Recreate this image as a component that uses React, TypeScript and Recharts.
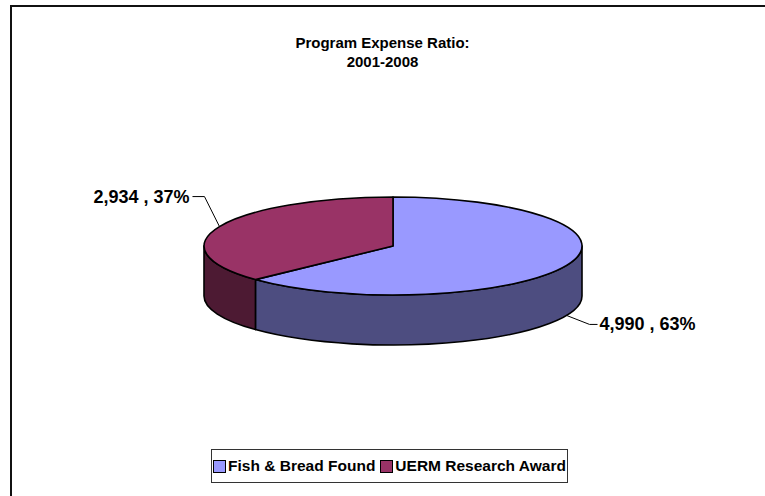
import React from 'react';
import { PieChart, Pie, Legend } from 'recharts';

// values
const categories = ['Fish & Bread Found', 'UERM Research Award'];
const values = [4990, 2934];
const topColors = ['#9999FF', '#993366'];
const sideColors = ['#4D4D80', '#4D1A33'];

const data = categories.map((name, i) => ({ name, value: values[i] }));

// 3d look: flattened ellipse plus a front wall
const RX = 189;
const RY = 49;
const DEPTH = 50;
const RAD = Math.PI / 180;
const FONT = '"Liberation Sans", Arial, sans-serif';

// leader line shape per slice: [dx, dy, horizontal run]
const leaders = [
    [23, 9, 8],
    [-15, -30, -12],
];

const pt = (cx: number, cy: number, a: number) => [cx + RX * Math.cos(a * RAD), cy - RY * Math.sin(a * RAD)];

const renderSlice = (props: any) => {
    const { cx, cy, startAngle, endAngle, index, value, percent } = props;
    const [sx, sy] = pt(cx, cy, startAngle);
    const [ex, ey] = pt(cx, cy, endAngle);
    const large = Math.abs(startAngle - endAngle) > 180 ? 1 : 0;
    const sweep = startAngle > endAngle ? 1 : 0;
    const top = `M${cx},${cy} L${sx},${sy} A${RX},${RY} 0 ${large} ${sweep} ${ex},${ey} Z`;

    const hi0 = Math.max(startAngle, endAngle);
    const lo0 = Math.min(startAngle, endAngle);
    const walls: string[] = [];
    [-1, 0, 1].forEach((k) => {
        const lo = Math.max(lo0, -180 + 360 * k);
        const hi = Math.min(hi0, 360 * k);
        if (hi > lo) {
            const [x1, y1] = pt(cx, cy, hi);
            const [x2, y2] = pt(cx, cy, lo);
            walls.push(
                `M${x1},${y1} A${RX},${RY} 0 0 1 ${x2},${y2} L${x2},${y2 + DEPTH} A${RX},${RY} 0 0 0 ${x1},${y1 + DEPTH} Z`
            );
        }
    });

    const mid = (startAngle + endAngle) / 2;
    const [ax, ayTop] = pt(cx, cy, mid);
    const ay = Math.sin(mid * RAD) < 0 ? ayTop + DEPTH : ayTop;
    const [dx, dy, run] = leaders[index];
    const bx = ax + dx;
    const by = ay + dy;
    const tx = bx + run;
    const text = `${value.toLocaleString('en-US')} , ${Math.round(percent * 100)}%`;

    return (
        <g key={`slice-${index}`}>
            {walls.map((d, i) => (
                <path key={i} d={d} fill={sideColors[index]} stroke="#000" strokeWidth={1.6} strokeLinejoin="round" />
            ))}
            <path d={top} fill={topColors[index]} stroke="#000" strokeWidth={1.6} strokeLinejoin="round" />
            <polyline points={`${ax},${ay} ${bx},${by} ${tx},${by}`} fill="none" stroke="#000" strokeWidth={1} />
            <text
                x={tx + (run > 0 ? 2 : -3)}
                y={by}
                textAnchor={run > 0 ? 'start' : 'end'}
                dominantBaseline="central"
                fontFamily={FONT}
                fontWeight="bold"
                fontSize={18}
                fill="#000"
            >
                {text}
            </text>
        </g>
    );
};

const renderLegend = () => (
    <div
        style={{
            display: 'flex',
            alignItems: 'center',
            justifyContent: 'center',
            height: '100%',
            border: '1.5px solid #333',
            boxSizing: 'border-box',
            fontFamily: FONT,
            fontWeight: 'bold',
            fontSize: 15.5,
            color: '#000',
            whiteSpace: 'nowrap',
        }}
    >
        {categories.map((c, i) => (
            <span key={c} style={{ display: 'flex', alignItems: 'center', marginLeft: i ? 5 : 0, flexShrink: 0 }}>
                <span
                    style={{
                        width: 11,
                        height: 11,
                        flexShrink: 0,
                        background: topColors[i],
                        border: '1px solid #000',
                        marginRight: 2,
                    }}
                />
                {c}
            </span>
        ))}
    </div>
);

export default function App() {
    return (
        <div style={{ position: 'absolute', left: 0, top: 0, width: 765, height: 496, background: '#fff', overflow: 'hidden' }}>
            <style>{'html, body { margin: 0; overflow: hidden; }'}</style>
            <div
                style={{
                    position: 'absolute',
                    left: 10,
                    top: 5,
                    width: 800,
                    height: 600,
                    borderTop: '2px solid #111',
                    borderLeft: '2px solid #111',
                }}
            />
            <div
                style={{
                    position: 'absolute',
                    left: 0,
                    top: 33,
                    width: 765,
                    textAlign: 'center',
                    fontFamily: FONT,
                    fontWeight: 'bold',
                    fontSize: 15,
                    lineHeight: '19px',
                    color: '#000',
                }}
            >
                Program Expense Ratio:
                <br />
                2001-2008
            </div>
            <div style={{ position: 'absolute', left: 0, top: 0 }}>
                <PieChart width={765} height={496} margin={{ top: 0, right: 0, bottom: 0, left: 0 }}>
                    <Pie
                        data={data}
                        dataKey="value"
                        nameKey="name"
                        cx={393}
                        cy={246}
                        outerRadius={RX}
                        startAngle={90}
                        endAngle={-270}
                        fill="none"
                        stroke="none"
                        label={renderSlice}
                        labelLine={false}
                        isAnimationActive={false}
                    />
                    <Legend
                        content={renderLegend}
                        wrapperStyle={{ position: 'absolute', left: 211, top: 449, width: 357, height: 34 }}
                    />
                </PieChart>
            </div>
        </div>
    );
}
